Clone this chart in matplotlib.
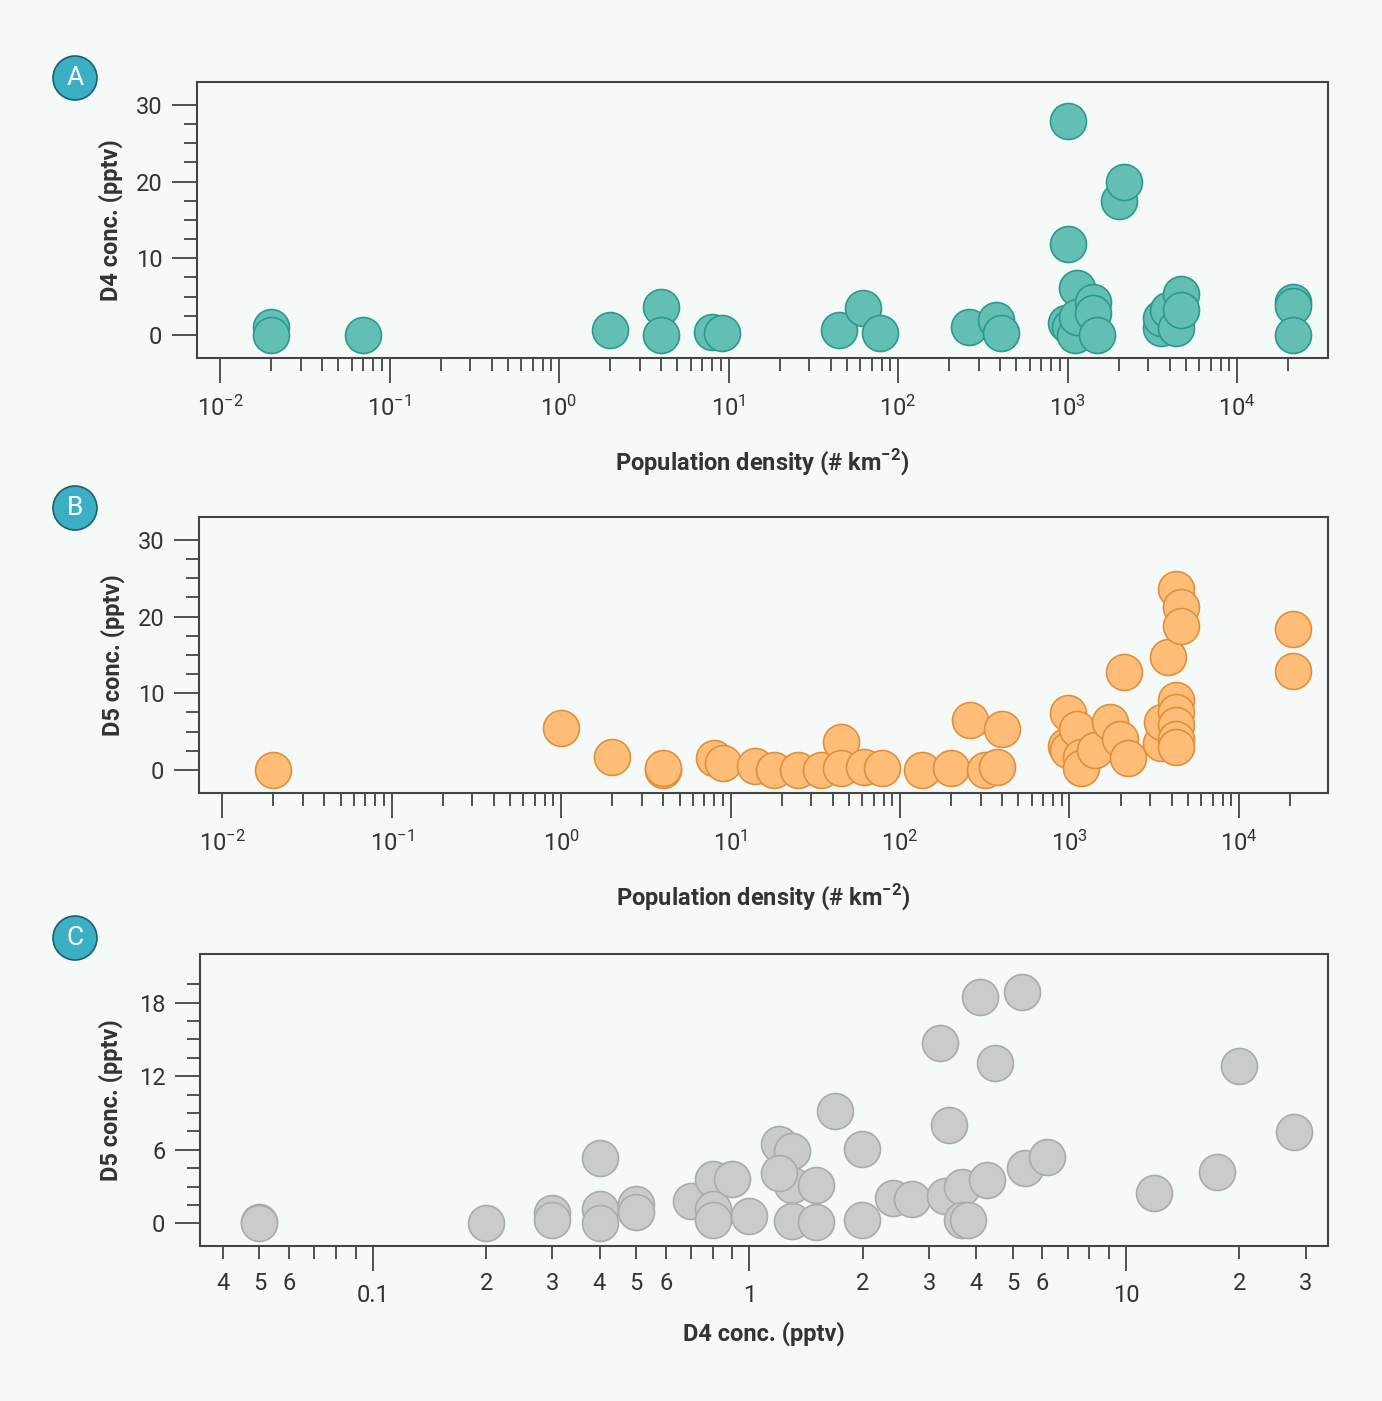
import numpy as np
import matplotlib.pyplot as plt
from matplotlib.ticker import FixedLocator, FixedFormatter, FuncFormatter, NullFormatter
from matplotlib.patches import Ellipse

plt.rcParams['font.family'] = ['Roboto', 'DejaVu Sans']

# panel A: population density vs D4
pop_a = [0.02, 0.02, 0.07, 2.0, 4.0, 4.0, 8.0, 9.2, 45, 62, 78, 262, 376, 403,
         980, 1000, 1000, 1030, 1110, 1140, 1140, 1413, 1413, 1500, 2010, 2140,
         3540, 3560, 3900, 4365, 4650, 4650, 21300, 21300, 21300]
d4_a = [1.0, 0.0, 0.0, 0.7, 3.7, 0.0, 0.4, 0.3, 0.7, 3.5, 0.2, 1.1, 2.0, 0.3,
        1.5, 27.9, 11.9, 1.1, 0.0, 6.1, 2.3, 4.3, 2.8, 0.0, 17.5, 20.0,
        0.9, 2.2, 3.2, 0.9, 5.3, 3.3, 4.3, 3.8, 0.0]

# panel B: population density vs D5
pop_b = [0.02, 1.0, 2.0, 4.0, 4.0, 8.0, 9.0, 14, 18, 25, 34, 45, 45, 61.5, 78,
         135, 201, 260, 318, 374, 398, 950, 985, 985, 1110, 1165, 1165, 1406,
         1742, 1983, 2108, 2213, 3475, 3515, 3830, 4250, 4250, 4250, 4250, 4250,
         4250, 4570, 4570, 20750, 20750]
d5_b = [0.0, 5.5, 1.7, 0.0, 0.3, 1.5, 0.9, 0.5, 0.0, 0.0, 0.0, 3.7, 0.2, 0.35, 0.2,
        0.0, 0.2, 6.5, 0.0, 0.35, 5.3, 3.1, 7.4, 2.6, 5.3, 1.65, 0.2, 2.6,
        6.3, 4.1, 12.8, 1.5, 3.5, 6.3, 14.7, 23.6, 9.1, 7.6, 5.9, 4.1,
        3.0, 21.3, 18.8, 18.4, 12.9]

# panel C: D4 vs D5
d4_c = [0.05, 0.05, 0.2, 0.3, 0.3, 0.4, 0.4, 0.4, 0.5, 0.5, 0.7, 0.8, 0.8, 0.8,
        0.9, 1.0, 1.2, 1.3, 1.3, 1.5, 1.2, 1.3, 1.5, 1.69, 1.99, 1.99, 2.4, 2.71,
        3.2, 3.3, 3.39, 3.68, 3.68, 3.8, 4.09, 4.28, 4.49, 5.29, 5.39, 6.19,
        11.9, 17.5, 19.95, 28.0]
d5_c = [0.1, 0.0, 0.0, 0.86, 0.3, 5.3, 1.2, 0.0, 1.6, 0.9, 1.84, 3.6, 1.2, 0.3,
        3.6, 0.6, 6.5, 5.9, 3.1, 3.1, 4.1, 0.2, 0.13, 9.15, 6.1, 0.3, 2.1, 1.95,
        14.75, 2.2, 8.0, 3.0, 0.3, 0.3, 18.5, 3.5, 13.05, 18.9, 4.5, 5.4,
        2.5, 4.2, 12.86, 7.44]

bg = '#f5f9f8'
ink = '#333333'
spine_col = '#444444'


def minor_log_ticks(lo, hi):
    vals = [m * 10.0**e for e in range(-3, 6) for m in range(2, 10)]
    return [v for v in vals if lo * 0.9999 <= v <= hi * 1.0001]


def style_axes(ax):
    ax.set_facecolor(bg)
    for s in ax.spines.values():
        s.set_color(spine_col)
        s.set_linewidth(1.5)
    ax.tick_params(which='major', direction='out', length=18, width=1.3,
                   color=spine_col, labelsize=17, labelcolor=ink, pad=7)
    ax.tick_params(which='minor', direction='out', length=9.5, width=1.3,
                   color=spine_col, labelsize=17, labelcolor=ink, pad=7)
    ax.tick_params(axis='x', which='both', pad=9)


fig = plt.figure(figsize=(13.82, 14.01), dpi=100)
fig.patch.set_facecolor(bg)

sc_kw = dict(s=670, linewidths=1.2, zorder=3)
lab_kw = dict(fontsize=17, fontweight='bold', color=ink)

# ---- A ----
axA = fig.add_axes([0.1425, 0.7445, 0.8184, 0.197])
axA.scatter(pop_a, d4_a, facecolor='#63bfb3', edgecolor='#2a9a8c', **sc_kw)
axA.set_xscale('log')
axA.set_xlim(0.00731, 34400)
axA.set_ylim(-3, 33)

# ---- B ----
axB = fig.add_axes([0.144, 0.434, 0.8169, 0.197])
axB.scatter(pop_b, d5_b, facecolor='#ffbd78', edgecolor='#e0903c', **sc_kw)
axB.set_xscale('log')
axB.set_xlim(0.00731, 33500)
axB.set_ylim(-3, 33)

for ax, lab in [(axA, 'D4 conc. (pptv)'), (axB, 'D5 conc. (pptv)')]:
    style_axes(ax)
    ax.xaxis.set_major_locator(FixedLocator([1e-2, 1e-1, 1e0, 1e1, 1e2, 1e3, 1e4]))
    ax.xaxis.set_major_formatter(FuncFormatter(
        lambda v, p: r'$\mathdefault{10^{%d}}$' % int(round(np.log10(v)))))
    ax.xaxis.set_minor_locator(FixedLocator(minor_log_ticks(0.02, 20000)))
    ax.xaxis.set_minor_formatter(NullFormatter())
    ax.yaxis.set_major_locator(FixedLocator([0, 10, 20, 30]))
    ax.yaxis.set_minor_locator(FixedLocator([2.5, 5, 7.5, 12.5, 15, 17.5,
                                             22.5, 25, 27.5]))
    ax.set_ylabel(lab, **lab_kw)
    ax.yaxis.set_label_coords(-0.0655, 0.5)
    ax.set_xlabel(r'Population density (# km$^{\mathdefault{-2}}$)', **lab_kw)
    ax.xaxis.set_label_coords(0.5, -0.323)

# ---- C ----
axC = fig.add_axes([0.1447, 0.1106, 0.8162, 0.2084])
axC.scatter(d4_c, d5_c, facecolor='#cbcbcb', edgecolor='#ababab', **sc_kw)
axC.set_xscale('log')
axC.set_xlim(0.03476, 34.4)
axC.set_ylim(-1.86, 21.97)
style_axes(axC)
axC.xaxis.set_major_locator(FixedLocator([0.1, 1, 10]))
axC.xaxis.set_major_formatter(FixedFormatter(['0.1', '1', '10']))
axC.xaxis.set_minor_locator(FixedLocator(minor_log_ticks(0.04, 30)))


def minor_lab(v, p):
    d = int(round(v / 10.0**np.floor(np.log10(v) + 1e-9)))
    return str(d) if d <= 6 else ''


axC.xaxis.set_minor_formatter(FuncFormatter(minor_lab))
axC.yaxis.set_major_locator(FixedLocator([0, 6, 12, 18]))
axC.yaxis.set_minor_locator(FixedLocator([1.5, 3, 4.5, 7.5, 9, 10.5, 13.5, 15,
                                          16.5, 19.5]))
axC.set_ylabel('D5 conc. (pptv)', **lab_kw)
axC.yaxis.set_label_coords(-0.0685, 0.5)
axC.set_xlabel('D4 conc. (pptv)', **lab_kw)
axC.xaxis.set_label_coords(0.5, -0.257)

# panel letters
W, H = 1382, 1401
for letter, cy in [('A', 78), ('B', 508), ('C', 938)]:
    e = Ellipse((75 / W, 1 - cy / H), 44 / W, 44 / H, transform=fig.transFigure,
                facecolor='#3bb0c4', edgecolor='#1e5f6b', linewidth=1.2)
    fig.patches.append(e)
    fig.text(75 / W, 1 - cy / H, letter, ha='center', va='center',
             fontsize=19, color='white')

fig.savefig('out.png', dpi=100, facecolor=bg)
